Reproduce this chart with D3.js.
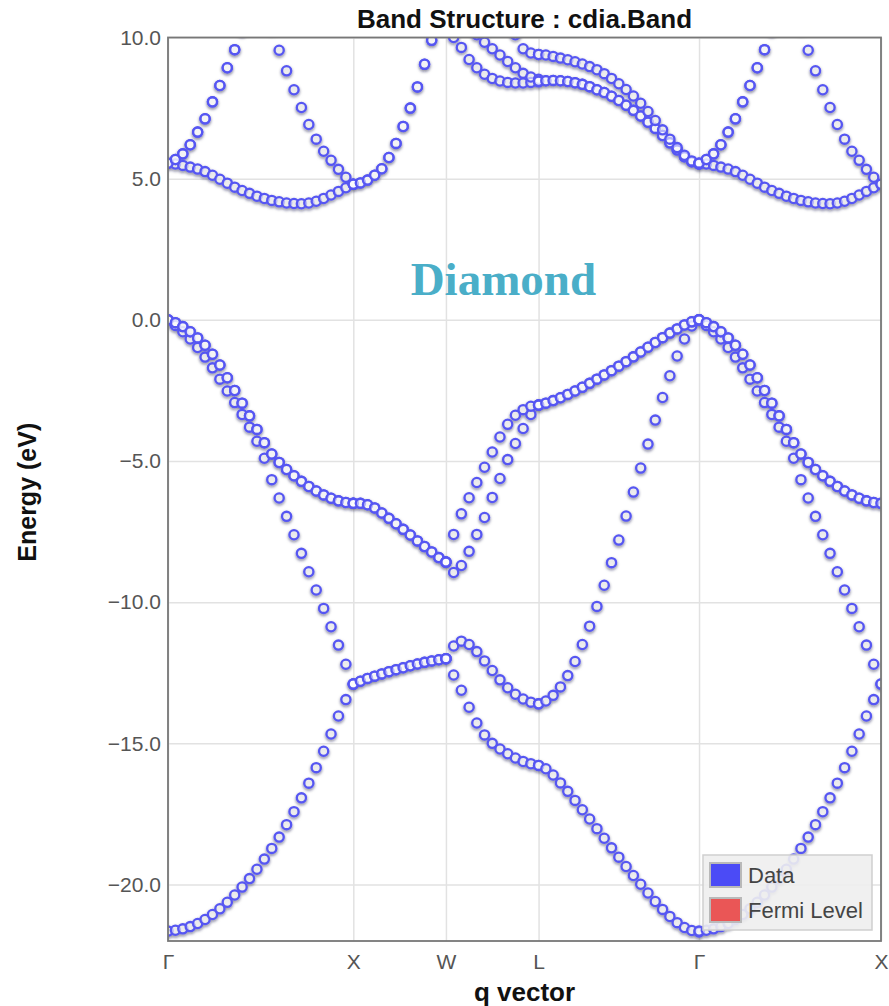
<!DOCTYPE html>
<html>
<head>
<meta charset="utf-8">
<script src="https://cdn.jsdelivr.net/npm/d3@7"></script>
<style>
    body { margin: 0; background: #fff; }
    svg { display: block; font-family: "Liberation Sans", Arial, Helvetica, sans-serif; }
</style>
</head>
<body>
<svg id="bands" width="889" height="1006"></svg>
<script>
// high-symmetry points along the path
const kLabels = ["Γ", "X", "W", "L", "Γ", "X"];
const kPositions = [0, 1.0, 1.5, 2.0, 2.866, 3.848];
const energyTicks = [10, 5, 0, -5, -10, -15, -20];

// Γ -> X (26 samples), null = outside the plotted window
const gxBand1 = [-21.65, -21.62, -21.57, -21.49, -21.38, -21.24, -21.06, -20.86, -20.63, -20.37, -20.09, -19.79, -19.46,
    -19.1, -18.72, -18.32, -17.88, -17.42, -16.93, -16.41, -15.86, -15.28, -14.67, -14.03, -13.45, -12.9];
const gxBand2 = [0, -0.2, -0.42, -0.68, -0.98, -1.32, -1.7, -2.1, -2.52, -2.93, -3.35, -3.8, -4.3,
    -4.9, -5.66, -6.31, -6.96, -7.61, -8.27, -8.92, -9.57, -10.22, -10.87, -11.52, -12.2, -12.9];
const gxBand34 = [0, -0.1, -0.24, -0.42, -0.64, -0.9, -1.22, -1.6, -2.05, -2.5, -2.95, -3.4, -3.88,
    -4.35, -4.75, -5.05, -5.3, -5.52, -5.72, -5.9, -6.06, -6.2, -6.32, -6.41, -6.47, -6.5];
const gxBand5 = [5.55, 5.52, 5.47, 5.41, 5.34, 5.25, 5.12, 4.98, 4.84, 4.7, 4.58, 4.48, 4.38,
    4.3, 4.23, 4.18, 4.14, 4.12, 4.11, 4.14, 4.2, 4.3, 4.42, 4.55, 4.68, 4.8];
const gxBand6 = [null, null, null, null, null, null, null, null, null, null, null, null, null,
    11.0, 10.3, 9.55, 8.82, 8.15, 7.52, 6.92, 6.4, 5.97, 5.65, 5.33, 5.05, 4.8];
const gxBand78 = [5.55, 5.68, 5.88, 6.2, 6.65, 7.12, 7.72, 8.3, 8.93, 9.57, 10.25, null, null,
    null, null, null, null, null, null, null, null, null, null, null, null, null];

// X -> W (14 samples)
const xwBand12 = [-12.9, -12.8, -12.7, -12.62, -12.54, -12.46, -12.39, -12.32, -12.25, -12.19, -12.13, -12.08, -12.04, -12.0];
const xwBand34 = [-6.5, -6.5, -6.55, -6.66, -6.84, -7.03, -7.22, -7.42, -7.62, -7.83, -8.03, -8.22, -8.42, -8.58];
const xwBand56 = [4.8, 4.85, 4.95, 5.12, 5.35, 5.75, 6.25, 6.85, 7.5, 8.25, 9.05, 9.9, 10.8, null];

// W -> L (13 samples)
const wlBand1 = [-12.0, -12.58, -13.12, -13.72, -14.28, -14.7, -15.0, -15.2, -15.37, -15.52, -15.64, -15.72, -15.78];
const wlBand2 = [-12.0, -11.55, -11.38, -11.5, -11.75, -12.08, -12.42, -12.75, -13.03, -13.26, -13.43, -13.54, -13.6];
const wlBand3 = [-8.58, -8.95, -8.7, -8.2, -7.6, -7.0, -6.29, -5.62, -4.95, -4.38, -3.85, -3.35, -3.02];
const wlBand4 = [-8.58, -7.6, -6.87, -6.3, -5.76, -5.22, -4.68, -4.15, -3.7, -3.38, -3.18, -3.06, -3.02];
const wlBand5 = [null, 10.0, 9.65, 9.22, 8.93, 8.7, 8.55, 8.46, 8.41, 8.39, 8.39, 8.41, 8.43];
const wlBand6 = [null, null, null, null, 10.1, 9.83, 9.6, 9.38, 9.15, 8.93, 8.73, 8.6, 8.52];
const wlBand7 = [null, null, null, null, null, null, null, null, null, 10.1, 9.6, 9.45, 9.4];

// L -> Γ (23 samples)
const lgBand1 = [-15.78, -15.9, -16.12, -16.4, -16.7, -17.02, -17.35, -17.68, -18.02, -18.36, -18.7, -19.03,
    -19.36, -19.68, -19.99, -20.3, -20.6, -20.88, -21.13, -21.35, -21.52, -21.63, -21.68];
const lgBand2 = [-13.6, -13.5, -13.3, -13.0, -12.6, -12.1, -11.5, -10.85, -10.15, -9.4, -8.6, -7.8,
    -6.95, -6.1, -5.25, -4.4, -3.55, -2.75, -1.98, -1.28, -0.68, -0.22, 0];
const lgBand34 = [-3.02, -2.95, -2.86, -2.76, -2.64, -2.52, -2.39, -2.25, -2.1, -1.95, -1.8, -1.64,
    -1.48, -1.31, -1.14, -0.97, -0.8, -0.63, -0.47, -0.32, -0.18, -0.07, 0];
const lgBand56 = [8.45, 8.47, 8.48, 8.47, 8.44, 8.4, 8.34, 8.26, 8.15, 8.05, 7.92, 7.77,
    7.6, 7.42, 7.22, 7.0, 6.78, 6.53, 6.27, 6.02, 5.78, 5.6, 5.52];
const lgBand7 = [9.4, 9.38, 9.33, 9.27, 9.21, 9.14, 9.06, 8.97, 8.86, 8.72, 8.55, 8.36,
    8.16, 7.93, 7.67, 7.38, 7.06, 6.73, 6.4, 6.1, 5.83, 5.63, 5.52];

const fermiLevel = 0;

function drawBandStructure(svgSelector) {
    const svg = d3.select(svgSelector);
    const margin = {top: 37.5, right: 8, bottom: 65, left: 168};
    const width = +svg.attr("width") - margin.left - margin.right;
    const height = +svg.attr("height") - margin.top - margin.bottom;

    const x = d3.scaleLinear().domain([0, kPositions[kPositions.length - 1]]).range([0, width]);
    const y = d3.scaleLinear().domain([-22, 10]).range([height, 0]);

    const defs = svg.append("defs");
    defs.append("clipPath").attr("id", "plot-clip")
        .append("rect").attr("width", width).attr("height", height);
    defs.append("filter").attr("id", "dot-shadow")
        .attr("x", "-10%").attr("y", "-10%").attr("width", "120%").attr("height", "120%")
        .append("feDropShadow")
        .attr("dx", 0).attr("dy", 1.6).attr("stdDeviation", 1.4)
        .attr("flood-color", "#10103a").attr("flood-opacity", 0.55);
    defs.append("filter").attr("id", "line-shadow")
        .append("feDropShadow")
        .attr("dx", 0).attr("dy", 1.5).attr("stdDeviation", 1)
        .attr("flood-color", "#6a8a80").attr("flood-opacity", 0.35);

    const g = svg.append("g").attr("transform", `translate(${margin.left},${margin.top})`);

    // grid
    g.append("g")
        .call(d3.axisLeft(y).tickValues(energyTicks).tickSize(-width).tickFormat(""))
        .call(a => a.select(".domain").remove())
        .selectAll("line").attr("stroke", "#e2e2e2").attr("stroke-width", 1.5);
    g.append("g")
        .attr("transform", `translate(0,${height})`)
        .call(d3.axisBottom(x).tickValues(kPositions).tickSize(-height).tickFormat(""))
        .call(a => a.select(".domain").remove())
        .selectAll("line").attr("stroke", "#e2e2e2").attr("stroke-width", 1.5);

    // Fermi level
    g.append("line")
        .attr("x1", 0).attr("x2", width)
        .attr("y1", y(fermiLevel)).attr("y2", y(fermiLevel))
        .attr("stroke", "#e07b7d").attr("stroke-width", 3.5)
        .attr("filter", "url(#line-shadow)");

    // band points
    const segments = [
        {from: kPositions[0], to: kPositions[1], bands: [gxBand1, gxBand2, gxBand34, gxBand34, gxBand5, gxBand6, gxBand78, gxBand78]},
        {from: kPositions[1], to: kPositions[2], bands: [xwBand12, xwBand12, xwBand34, xwBand34, xwBand56, xwBand56]},
        {from: kPositions[2], to: kPositions[3], bands: [wlBand1, wlBand2, wlBand3, wlBand4, wlBand5, wlBand6, wlBand7]},
        {from: kPositions[3], to: kPositions[4], bands: [lgBand1, lgBand2, lgBand34, lgBand34, lgBand56, lgBand56, lgBand7]},
        {from: kPositions[4], to: kPositions[5], bands: [gxBand1, gxBand2, gxBand34, gxBand34, gxBand5, gxBand6, gxBand78, gxBand78]},
    ];
    const points = [];
    segments.forEach(s => {
        s.bands.forEach(band => {
            band.forEach((e, i) => {
                if (e === null) return;
                points.push({q: s.from + (s.to - s.from) * i / (band.length - 1), e: e});
            });
        });
    });

    g.append("g")
        .attr("clip-path", "url(#plot-clip)")
        .append("g")
        .attr("filter", "url(#dot-shadow)")
        .selectAll("circle")
        .data(points)
        .enter().append("circle")
        .attr("cx", d => x(d.q))
        .attr("cy", d => y(d.e))
        .attr("r", 4.6)
        .attr("fill", "rgba(255,255,255,0.55)")
        .attr("stroke", "#5757f2")
        .attr("stroke-width", 2.3);

    // frame
    g.append("rect")
        .attr("width", width).attr("height", height)
        .attr("fill", "none").attr("stroke", "#777").attr("stroke-width", 1.8);

    // axes
    const yAxis = g.append("g")
        .call(d3.axisLeft(y).tickValues(energyTicks).tickSize(0).tickPadding(7).tickFormat(d3.format(".1f")));
    yAxis.select(".domain").remove();
    yAxis.selectAll("text").attr("font-size", "21px").attr("fill", "#555")
        .style("font-family", "'Liberation Sans', Arial, sans-serif");

    const xAxis = g.append("g")
        .attr("transform", `translate(0,${height})`)
        .call(d3.axisBottom(x).tickValues(kPositions).tickSize(0).tickPadding(13).tickFormat((d, i) => kLabels[i]));
    xAxis.select(".domain").remove();
    xAxis.selectAll("text").attr("font-size", "21px").attr("fill", "#555")
        .style("font-family", "'Liberation Sans', Arial, sans-serif");

    // titles
    svg.append("text")
        .attr("x", margin.left + width / 2).attr("y", 28)
        .attr("text-anchor", "middle").attr("font-size", "26px").attr("font-weight", "bold")
        .attr("fill", "#111")
        .text("Band Structure : cdia.Band");
    svg.append("text")
        .attr("x", margin.left + width / 2).attr("y", 1001)
        .attr("text-anchor", "middle").attr("font-size", "26px").attr("font-weight", "bold")
        .attr("fill", "#111")
        .text("q vector");
    svg.append("text")
        .attr("transform", `translate(36,${margin.top + height / 2 + 3}) rotate(-90)`)
        .attr("text-anchor", "middle").attr("font-size", "25px").attr("font-weight", "bold")
        .attr("fill", "#111")
        .text("Energy (eV)");

    g.append("text")
        .attr("x", x(1.81)).attr("y", y(0.87))
        .attr("text-anchor", "middle")
        .style("font-family", "'Liberation Serif', 'Times New Roman', serif")
        .attr("font-size", "47px").attr("font-weight", "bold")
        .attr("fill", "#4aaec8")
        .text("Diamond");

    // legend
    const legend = svg.append("g").attr("transform", "translate(703,855)");
    legend.append("rect")
        .attr("width", 169).attr("height", 75)
        .attr("fill", "#eeeeee").attr("fill-opacity", 0.9)
        .attr("stroke", "#cfcfcf").attr("stroke-width", 1.5);
    const items = [{label: "Data", color: "#4b4bf6"}, {label: "Fermi Level", color: "#ea5656"}];
    items.forEach((d, i) => {
        legend.append("rect")
            .attr("x", 7).attr("y", 8 + i * 35)
            .attr("width", 31).attr("height", 24)
            .attr("fill", d.color).attr("stroke", "#b9b9b9").attr("stroke-width", 2);
        legend.append("text")
            .attr("x", 45).attr("y", 28 + i * 35)
            .attr("font-size", "22px").attr("fill", "#444")
            .text(d.label);
    });
}

drawBandStructure("#bands");
</script>
</body>
</html>
